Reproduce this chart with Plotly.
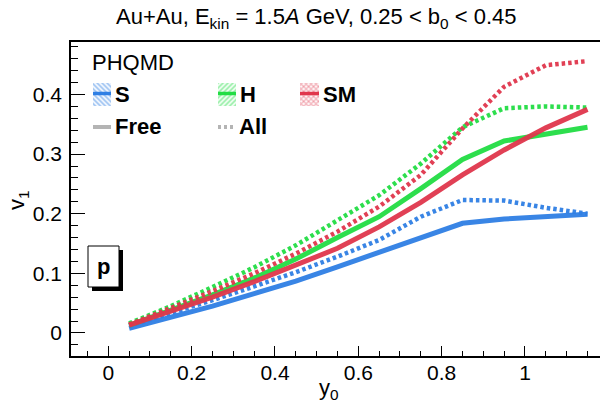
import plotly.graph_objects as go

# ---------------- data ----------------
y0 = [0.05, 0.15, 0.25, 0.35, 0.45, 0.55, 0.65, 0.75, 0.85, 0.95, 1.05, 1.15]

s_free  = [0.008, 0.026, 0.045, 0.066, 0.087, 0.111, 0.136, 0.161, 0.184, 0.191, 0.194, 0.199]
s_all   = [0.012, 0.033, 0.055, 0.078, 0.102, 0.128, 0.156, 0.195, 0.223, 0.222, 0.210, 0.200]
h_free  = [0.013, 0.038, 0.064, 0.092, 0.124, 0.160, 0.195, 0.242, 0.291, 0.322, 0.333, 0.345]
h_all   = [0.016, 0.045, 0.077, 0.110, 0.147, 0.189, 0.231, 0.284, 0.345, 0.377, 0.380, 0.378]
sm_free = [0.013, 0.036, 0.060, 0.086, 0.113, 0.142, 0.178, 0.219, 0.265, 0.307, 0.344, 0.375]
sm_all  = [0.014, 0.041, 0.070, 0.100, 0.133, 0.170, 0.212, 0.265, 0.343, 0.413, 0.449, 0.456]

x_tickvals = [0, 0.2, 0.4, 0.6, 0.8, 1]
x_ticktext = ["0", "0.2", "0.4", "0.6", "0.8", "1"]
y_tickvals = [0, 0.1, 0.2, 0.3, 0.4]
y_ticktext = ["0", "0.1", "0.2", "0.3", "0.4"]

BLUE = "#2f7fe4"
GREEN = "#22dd44"
RED = "#e0364c"
GRAY = "#b4b4b4"
FONT = "Liberation Sans, Arial, sans-serif"

# plot-area pixel frame
L, R, T, B = 71, 600, 42, 356
W, H = 600, 407


def px(x):
    return (x - L) / (R - L)


def py(y):
    return (B - y) / (B - T)


fig = go.Figure()

DOT = "3.5px,3px"
series = [
    (s_free, BLUE, "solid"), (s_all, BLUE, DOT),
    (h_free, GREEN, "solid"), (h_all, GREEN, DOT),
    (sm_free, RED, "solid"), (sm_all, RED, DOT),
]
for vals, col, dash in series:
    fig.add_trace(go.Scatter(
        x=y0, y=vals, mode="lines",
        line=dict(color=col, width=5 if dash == "solid" else 4.5, dash=dash),
        opacity=0.95, showlegend=False, hoverinfo="skip"))

# ---------------- legend (overlay pixel axes) ----------------
boxes = [
    (93, 111, BLUE, "\\"),
    (218, 236, GREEN, "/"),
    (300, 319, RED, "x"),
]
for x0b, x1b, col, pat in boxes:
    fig.add_trace(go.Scatter(
        x=[x0b, x1b, x1b, x0b, x0b], y=[83, 83, 106, 106, 83],
        xaxis="x2", yaxis="y2", mode="lines", fill="toself",
        line=dict(width=0, color="rgba(0,0,0,0)"),
        fillcolor="white",
        fillpattern=dict(shape=pat, fgcolor=col, bgcolor="white",
                         size=3.5, solidity=0.5),
        showlegend=False, hoverinfo="skip"))
    fig.add_trace(go.Scatter(
        x=[x0b, x1b], y=[93.5, 93.5], xaxis="x2", yaxis="y2", mode="lines",
        line=dict(color=col, width=3.5), showlegend=False, hoverinfo="skip"))

fig.add_trace(go.Scatter(
    x=[93, 111], y=[127, 127], xaxis="x2", yaxis="y2", mode="lines",
    line=dict(color=GRAY, width=4), showlegend=False, hoverinfo="skip"))
fig.add_trace(go.Scatter(
    x=[218, 236], y=[127, 127], xaxis="x2", yaxis="y2", mode="lines",
    line=dict(color=GRAY, width=4, dash="3px,3px"), showlegend=False, hoverinfo="skip"))

ann = []


def text(x, y, s, size=22, xanchor="left", yanchor="middle", bold=False, angle=0):
    ann.append(dict(
        x=px(x), y=py(y), xref="paper", yref="paper", text=("<b>%s</b>" % s) if bold else s,
        showarrow=False, xanchor=xanchor, yanchor=yanchor, textangle=angle,
        font=dict(family=FONT, size=size, color="black")))


text(316, 18, "Au+Au, E<sub>kin</sub> = 1.5<i>A</i> GeV, 0.25 &lt; b<sub>0</sub> &lt; 0.45",
     size=22, xanchor="center")
text(90, 62, "PHQMD", size=22)
text(113, 95, "S", size=22, bold=True)
text(238, 95, "H", size=22, bold=True)
text(321, 95, "SM", size=22, bold=True)
text(113, 126, "Free", size=22, bold=True)
text(237, 126, "All", size=22, bold=True)
text(103.5, 266, "p", size=22, xanchor="center", bold=True)
text(329, 389, "y<sub>0</sub>", size=22, xanchor="center")
text(18, 200, "v<sub>1</sub>", size=22, xanchor="center", angle=-90)

shapes = [
    dict(type="rect", xref="paper", yref="paper",
         x0=px(92), x1=px(123), y0=py(291), y1=py(250),
         fillcolor="black", line=dict(width=0), layer="above"),
    dict(type="rect", xref="paper", yref="paper",
         x0=px(88), x1=px(119), y0=py(287), y1=py(246),
         fillcolor="white", line=dict(width=1, color="black"), layer="above"),
]

axis_common = dict(
    showgrid=False, zeroline=False, showline=True, linecolor="black", linewidth=1.5,
    ticks="inside", tickcolor="black", tickwidth=1.2,
    tickfont=dict(family=FONT, size=21, color="black"),
)

fig.update_layout(
    width=W, height=H,
    margin=dict(l=L, r=W - R, t=T, b=H - B, pad=0),
    paper_bgcolor="white", plot_bgcolor="white",
    showlegend=False,
    xaxis=dict(range=[-0.0895, 1.18], tickmode="array", tickvals=x_tickvals, ticktext=x_ticktext,
               ticklen=10, mirror=True, ticklabelstandoff=-3,
               minor=dict(ticks="inside", dtick=0.05, tick0=0, ticklen=5, tickcolor="black", tickwidth=1.2),
               **axis_common),
    yaxis=dict(range=[-0.0386, 0.488], tickmode="array", tickvals=y_tickvals, ticktext=y_ticktext,
               ticklen=14, ticklabelstandoff=3,
               minor=dict(ticks="inside", dtick=0.02, tick0=0, ticklen=7, tickcolor="black", tickwidth=1.2),
               **axis_common),
    xaxis2=dict(range=[L, R], overlaying="x", anchor="y2", visible=False, fixedrange=True),
    yaxis2=dict(range=[B, T], overlaying="y", anchor="x2", visible=False, fixedrange=True),
    annotations=ann,
    shapes=shapes,
)

fig.write_html("out.html")
